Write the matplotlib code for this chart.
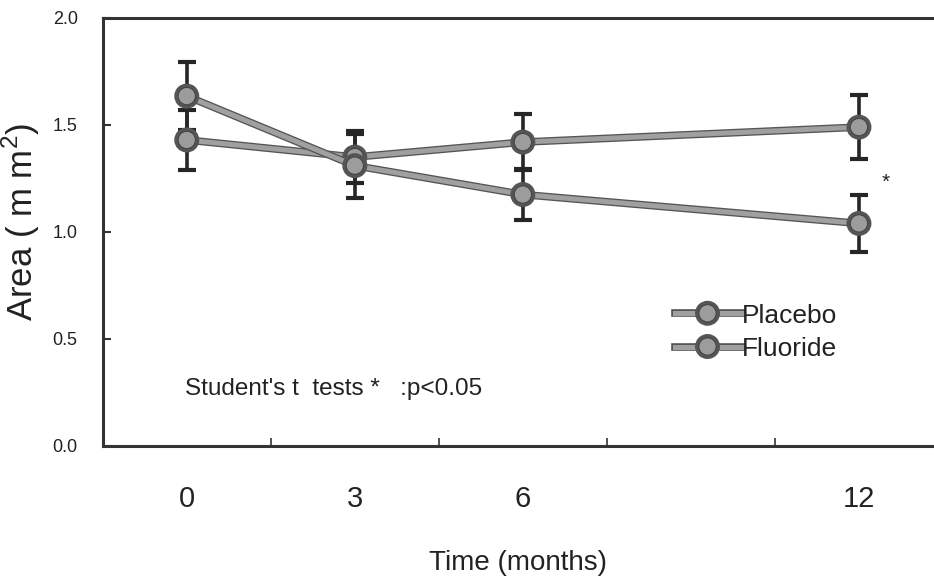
import matplotlib
matplotlib.use("Agg")
import matplotlib.pyplot as plt
import matplotlib.patheffects as pe
from matplotlib.lines import Line2D

plt.rcParams['font.family'] = ['Liberation Sans', 'DejaVu Sans']

months = [0, 3, 6, 12]
month_labels = ['0', '3', '6', '12']
placebo = [1.43, 1.35, 1.42, 1.49]
placebo_err = [0.14, 0.12, 0.13, 0.15]
fluoride = [1.635, 1.31, 1.175, 1.04]
fluoride_err = [0.16, 0.15, 0.12, 0.135]
y_ticks = [0.0, 0.5, 1.0, 1.5, 2.0]
y_tick_labels = ['0.0', '0.5', '1.0', '1.5', '2.0']

fig = plt.figure(figsize=(9.34, 5.82), dpi=100)
ax = fig.add_axes([0.110, 0.2337, 0.89, 0.7354])

line_col = '#a0a0a0'
edge_col = '#444444'
outline = [pe.Stroke(linewidth=5.5, foreground='#555555'), pe.Normal()]
mk = dict(marker='o', markersize=12.5, markerfacecolor='#9c9c9c',
          markeredgecolor=edge_col, markeredgewidth=0.8)

for vals, errs in [(placebo, placebo_err), (fluoride, fluoride_err)]:
    ax.errorbar(months, vals, yerr=errs, fmt='none', ecolor='#262626',
                elinewidth=2.6, capsize=6.5, capthick=3, zorder=2)
    ln, = ax.plot(months, vals, color=line_col, lw=3.6, zorder=3, **mk)
    ln.set_path_effects(outline)

ax.set_xlim(-1.5, 13.34)
ax.set_ylim(0, 2.0)

ax.set_yticks(y_ticks)
ax.set_yticklabels(y_tick_labels, fontsize=13, color='#222222')
ax.tick_params(axis='y', direction='in', length=6, width=1.5, color='#333333', pad=18)

ax.set_xticks(months)
ax.set_xticklabels(month_labels, fontsize=21, color='#222222')
ax.tick_params(axis='x', which='major', length=0, pad=28)
ax.set_xticks([1.5, 4.5, 7.5, 10.5], minor=True)
ax.tick_params(axis='x', which='minor', direction='in', length=6, width=1.2, color='#333333')

for s in ['top', 'left', 'bottom']:
    ax.spines[s].set_color('#333333')
    ax.spines[s].set_linewidth(2.2)
ax.spines['right'].set_visible(False)

ax.set_xlabel('Time (months)', fontsize=20, color='#222222', labelpad=27)
ax.set_ylabel('Area ( m m$^{\\mathregular{2}}$)', fontsize=25, color='#222222')
ax.yaxis.set_label_coords(-0.073, 0.523)

ax.text(0.099, 0.133, "Student's t  tests *   :p<0.05", transform=ax.transAxes,
        fontsize=17.5, color='#222222', ha='left', va='center')
ax.text(12.47, 1.23, '*', fontsize=15, color='#222222', ha='center', va='center')

h = Line2D([], [], color=line_col, lw=3.6, path_effects=outline, **mk)
h2 = Line2D([], [], color=line_col, lw=3.6, path_effects=outline, **mk)
leg = ax.legend([h, h2], ['Placebo', 'Fluoride'], loc='center left',
                bbox_to_anchor=(0.672, 0.266), frameon=False, fontsize=19,
                handlelength=2.5, handletextpad=0.05, labelspacing=0.35,
                borderpad=0)
for t in leg.get_texts():
    t.set_color('#222222')

fig.savefig('out.png', dpi=100)
